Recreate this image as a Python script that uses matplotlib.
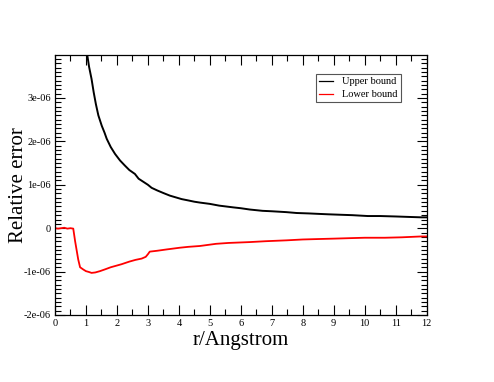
import numpy as np
import matplotlib
matplotlib.use("Agg")
import matplotlib.pyplot as plt
from matplotlib.ticker import MultipleLocator, AutoMinorLocator

plt.rcParams['font.family'] = ['Liberation Serif', 'DejaVu Serif']

# upper bound (black), values in units of 1e-6
upper_r = [0.95, 1.04, 1.1, 1.18, 1.25, 1.32, 1.4, 1.51, 1.6, 1.67, 1.8, 1.94,
           2.1, 2.26, 2.4, 2.58, 2.7, 2.85, 3.0, 3.12, 3.3, 3.5, 3.71, 3.9,
           4.09, 4.3, 4.5, 4.68, 5.0, 5.3, 5.75, 6.0, 6.29, 6.7, 7.0, 7.47,
           7.8, 8.2, 8.5, 8.82, 9.2, 9.6, 10.1, 10.5, 11.0, 11.4, 11.83, 12.0]
upper_v = [4.3, 4.0, 3.72, 3.44, 3.13, 2.86, 2.6, 2.36, 2.2, 2.06, 1.87, 1.71,
           1.56, 1.44, 1.34, 1.25, 1.14, 1.07, 1.0, 0.93, 0.87, 0.81, 0.75, 0.71,
           0.67, 0.64, 0.61, 0.59, 0.56, 0.52, 0.48, 0.46, 0.43, 0.40, 0.39, 0.37,
           0.35, 0.34, 0.33, 0.32, 0.31, 0.30, 0.28, 0.28, 0.27, 0.26, 0.25, 0.25]

# lower bound (red)
lower_r = [0, 0.1, 0.2, 0.3, 0.4, 0.5, 0.59, 0.65, 0.75, 0.81, 0.91, 1.0, 1.1,
           1.18, 1.3, 1.45, 1.61, 1.8, 2.0, 2.15, 2.4, 2.6, 2.8, 2.93, 3.0,
           3.06, 3.3, 3.6, 4.03, 4.3, 4.68, 5.2, 5.6, 6.29, 6.8, 7.47, 8.0,
           8.5, 9.03, 9.5, 10.0, 10.65, 11.2, 11.83, 12.0]
lower_v = [0.0, -0.01, 0.0, 0.01, -0.01, 0.0, -0.01, -0.3, -0.72, -0.9, -0.95,
           -0.99, -1.01, -1.03, -1.02, -0.99, -0.95, -0.9, -0.86, -0.83, -0.77,
           -0.73, -0.7, -0.66, -0.6, -0.54, -0.52, -0.49, -0.45, -0.43, -0.41,
           -0.36, -0.34, -0.32, -0.30, -0.28, -0.26, -0.25, -0.24, -0.23, -0.22,
           -0.22, -0.21, -0.19, -0.19]

y_ticks = [-2e-6, -1e-6, 0, 1e-6, 2e-6, 3e-6]
y_labels = ["-2e-06", "-1e-06", "0", "1e-06", "2e-06", "3e-06"]

fig = plt.figure(figsize=(4.94, 3.82), dpi=100)
ax = fig.add_axes([0.1113, 0.1754, 0.7524, 0.6806])

ax.plot(upper_r, np.array(upper_v) * 1e-6, color="black", lw=1.4, label="Upper bound")
ax.plot(lower_r, np.array(lower_v) * 1e-6, color="red", lw=1.3, label="Lower bound")

ax.set_xlim(0, 12)
ax.set_ylim(-2e-6, 3.99e-6)
ax.xaxis.set_major_locator(MultipleLocator(1))
ax.xaxis.set_minor_locator(AutoMinorLocator(2))
ax.set_yticks(y_ticks)
ax.set_yticklabels(y_labels)
ax.yaxis.set_minor_locator(MultipleLocator(1e-7))

ax.tick_params(which="both", direction="in", top=True, right=True, labelsize=7.5, width=0.8)
ax.tick_params(which="major", length=7, pad=3)
ax.tick_params(which="minor", length=4)
for s in ax.spines.values():
    s.set_linewidth(0.9)

ax.set_xlabel("r/Angstrom", fontsize=15, labelpad=2)
ax.set_ylabel("Relative error", fontsize=15, labelpad=-3)

leg = ax.legend(loc="upper right", bbox_to_anchor=(0.931, 0.927), borderaxespad=0,
                fontsize=7.5, fancybox=False, framealpha=1, edgecolor="#555555",
                handlelength=1.3, handletextpad=0.9, borderpad=0.3, labelspacing=0.35)
leg.get_frame().set_linewidth(0.8)
for h in leg.get_lines():
    h.set_linewidth(0.9)

fig.savefig("out.png", dpi=100)
